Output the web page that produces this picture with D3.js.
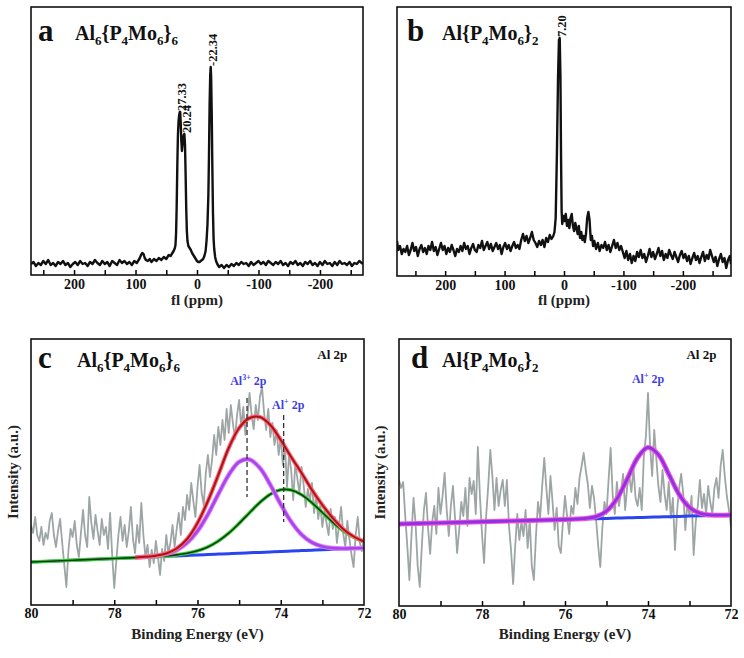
<!DOCTYPE html>
<html><head><meta charset="utf-8">
<script src="https://cdn.jsdelivr.net/npm/d3@7"></script>
<style>body{margin:0;background:#fff}svg{display:block}</style>
</head><body>
<script>
// ---------------- DATA ----------------
// Panel a: 27Al NMR of Al6{P4Mo6}6  (chemical shift ppm, intensity)
const aShift = [270,266,262,258,254,250,246,242,238,234,230,226,222,218,214,210,206,202,198,194,190,186,182,178,174,170,166,162,158,154,150,146,142,138,134,130,126,122,118,114,110,106,102,98,
95,93,91,89,87,85,83,80,77,74,70,66,62,58,54,50,46,43,40,38,36,35,34,33,32,31,30,29,28,27.3,26.5,25.5,24.5,23.5,22.5,21.5,20.5,19.5,18.5,17.5,16.5,15.5,14,12,10,8,6,4,2,0,-2,-4,-6,-8,-10,-12,-14,-15.5,-17,-18.5,-19.5,-20.5,-21.5,-22.3,-23,-24,-25,-26,-27,-28,-29.5,-31,-33,-36,-40,-44,-48,-52,-56,-60,-64,-68,-72,-76,-80,-84,-88,-92,-96,-100,-104,-108,-112,-116,-120,-124,-128,-132,-136,-140,-144,-148,-152,-156,-160,-164,-168,-172,-176,-180,-184,-188,-192,-196,-200,-204,-208,-212,-216,-220,-224,-228,-232,-236,-240,-244,-248,-252,-256,-260,-264,-270];
const aIntensity = [0.5,1.5,-0.5,1,0,2,0.5,2.5,0,1,-0.5,1.5,0.5,2,0,1,-1,0.5,1.5,0,2,0.5,1,-0.5,1.5,0.5,2.5,1,0,2,0.5,1.5,-0.5,2,1,0,2.5,1,2,0.5,1.5,0,2,1,
2.5,3.5,5,6,5.5,3.5,2.5,2,3,1.5,3,2,3.5,2.5,4,3,5,4.5,6,7,8.5,10,16,30,50,65,72,75,76.5,76.5,71,62,57,60,63,65,65.5,60,45,28,17,12,9.5,8.5,7.5,6,5,4,3,2,1.5,1.5,2,2.5,3,4.5,7,12,20,35,55,80,95,99,94,75,48,26,13,8,4,2,0.5,-1,0,-1.5,0,-1,0.5,-0.5,1,0,1.5,0.5,1,-0.5,1.5,0,1,2,0.5,1.5,0,2,1,0,1.5,0.5,2,0,1,-0.5,1.5,0.5,2,0,1,-0.5,1.5,0.5,2,0,1,-0.5,1.5,0,2,0.5,1,-0.5,1.5,0,2,0.5,1,0,1.5,-0.5,1,0.5,2,0.5];
const aPeakLabels = ["27.33","20.24","-22.34"];
const aPeakShift = [27.33, 20.24, -22.34];
const aPeakHeight = [76.5, 65.5, 99];

// Panel b: 27Al NMR of Al{P4Mo6}2
const bShift = [281,279,276,273,270,267,264,261,258,255,252,249,246,243,240,237,234,231,228,225,222,219,216,213,210,207,204,201,198,195,192,189,186,183,180,177,174,171,168,165,162,159,156,153,150,147,144,141,138,135,132,129,126,123,120,117,114,111,108,105,102,99,96,93,90,87,84,81,78,75,72,69,66,63,60,57,54,51,48,45,42,39,36,33,30,27,24,21,18,16,14,12,10,8.5,7.2,6,5,4,3,1,-1,-3,-5,-7,-9,-11,-13,-15,-17,-19,-21,-23,-25,-27,-29,-31,-33,-35,-37,-39,-41,-43,-45,-47,-49,-51,-54,-57,-60,-63,-66,-69,-72,-75,-78,-81,-84,-87,-90,-93,-96,-99,-102,-105,-108,-111,-114,-117,-120,-123,-126,-129,-132,-135,-138,-141,-144,-147,-150,-153,-156,-159,-162,-165,-168,-171,-174,-177,-180,-183,-186,-189,-192,-195,-198,-201,-204,-207,-210,-213,-216,-219,-222,-225,-228,-231,-234,-237,-240,-243,-246,-249,-252,-255,-258,-261,-264,-267,-270,-273,-276,-279,-281];
const bIntensity = [35,26,30,22,27,24,30,21,26,33,25,29,20,27,31,24,28,22,30,26,34,25,29,21,27,33,26,30,22,28,24,31,26,20,27,24,30,25,33,27,30,22,28,32,26,24,31,28,35,26,30,34,27,32,25,29,33,27,31,22,29,33,27,31,25,30,34,28,31,27,36,42,35,40,33,38,44,36,33,29,35,31,36,29,38,34,41,37,40,44,58,120,200,236,238,200,120,65,52,60,55,62,50,56,48,58,62,50,45,53,48,42,50,38,44,36,40,34,42,58,64,56,36,40,30,35,27,33,25,31,28,34,26,31,24,30,36,28,33,26,30,24,18,25,16,22,13,20,15,24,19,26,18,22,14,20,27,19,24,17,22,28,20,25,16,22,18,26,21,17,24,19,14,21,25,18,22,15,20,12,18,23,16,20,13,19,24,15,21,17,26,20,14,19,10,17,22,14,18,8,16,20,12];
const bPeakLabels = ["7.20"];
const bPeakShift = [7.2];
const bPeakHeight = [238];

// Panel c: XPS Al 2p of Al6{P4Mo6}6
const cEnergyStart = 80, cEnergyStep = -0.05;
const cCounts = [80,72,88,70,64,78,60,72,66,84,92,
70,58,74,86,62,40,18,55,76,68,
84,60,48,72,95,70,58,108,82,66,
90,74,60,86,70,78,56,92,50,17,
44,70,88,64,80,58,74,98,66,52,
80,62,102,70,48,60,38,55,42,64,
48,30,56,44,70,52,62,80,58,76,
92,70,98,85,110,95,122,104,88,118,
140,112,100,132,150,128,145,170,150,178,
160,185,165,196,172,200,182,166,190,205,
178,198,170,188,212,190,176,200,185,208,
218,192,175,196,168,182,160,175,150,168,
140,160,118,150,135,105,142,126,112,138,
120,98,116,104,122,92,110,86,100,78,
94,82,70,96,76,88,62,80,98,72,
58,84,66,50,38,70,88,62,54,68];
const cFitEnergy = [80,79,78,77.5,77.25,77,76.75,76.5,76.25,76,75.75,75.5,75.25,75,74.75,74.5,74.25,74,73.75,73.5,73.25,73,72.75,72.5,72.25,72];
const cBackground = [43,44.75,46.5,47.4,47.8,48.25,48.7,49.1,49.6,50,50.4,50.9,51.3,51.75,52.2,52.6,53.1,53.5,53.9,54.4,54.8,55.25,55.7,56.1,56.6,57];
const cAl3Fit = [null,null,null,47.5,48.1,49.1,51.1,54.9,62.1,73.9,90.7,110.9,130.1,143.1,145.6,136.9,120.2,100.7,83.2,70.4,62.5,58.6,56.9,56.5,56.7,57.0];
const cAl1Fit = [43,44.75,46.5,47.4,47.9,48.4,49.1,50.1,51.7,54.2,58.1,63.9,71.8,81.6,92.3,102.6,110.8,115.2,114.9,110.3,102.2,92.5,82.7,74.3,67.9,63.5];
const cEnvelope = [null,null,null,47.5,48.2,49.3,51.5,56.5,66,82,104,130,157,177,187,188,180,165,148,132,115,100,87,76,68.5,63.5];
const cMarkerEnergy = [74.81, 73.93];
const cMarkerTop = [207, 190];
const cMarkerBottom = [108, 83];

// Panel d: XPS Al 2p of Al{P4Mo6}2
const dEnergyStart = 80, dEnergyStep = -0.05;
const dCounts = [126,118,124,90,60,26,70,108,82,40,19,
60,96,113,78,52,84,100,72,118,92,
110,133,96,70,100,120,88,53,76,104,
90,118,80,128,112,125,92,159,110,72,
43,90,120,156,130,96,128,100,116,126,
100,126,80,56,22,60,92,66,84,70,
96,58,86,40,26,70,104,88,120,148,
118,92,130,104,76,98,60,53,84,110,
90,72,100,92,118,102,128,140,153,136,
122,98,120,108,86,60,39,78,104,92,
126,158,110,92,124,100,114,132,96,120,
130,114,138,108,100,118,96,150,170,213,
160,130,176,148,120,104,136,112,96,124,
88,108,56,94,118,132,112,76,104,90,
110,51,84,100,126,98,112,92,120,104,
92,118,128,108,140,156,130,110,96,79];
const dFitEnergy = [80,78,76,75.75,75.5,75.25,75,74.75,74.5,74.25,74,73.75,73.5,73.25,73,72.75,72.5,72.25,72];
const dBackground = [82,84.25,86.5,86.8,87.1,87.3,87.6,87.9,88.2,88.5,88.75,89.0,89.3,89.6,89.9,90.2,90.4,90.7,91];
const dAl1Fit = [82,84.25,86.5,86.9,87.6,89.4,94.9,107.2,127.1,148.3,158.6,151.4,131.8,111.6,98.6,92.8,91.0,90.8,91];

// axis ticks
const nmrTicks = [250,200,150,100,50,0,-50,-100,-150,-200,-250];
const nmrTickLabels = [200,100,0,-100,-200];
const xpsTicks = [79,78,77,76,75,74,73];
const xpsTickLabels = [80,78,76,74,72];

// ---------------- DRAW ----------------
const FONT = '"Liberation Serif","Times New Roman",serif';
const svg = d3.select("body").append("svg").attr("width",744).attr("height",658);
let clipN = 0;

function makePanel(box, xDomain, yDomain, ticks, tickLabels, xLabel, yLabel, pad){
  const x = d3.scaleLinear().domain(xDomain).range([box.l, box.r]);
  const y = d3.scaleLinear().domain(yDomain).range([box.b, box.t]);
  const id = "clip" + (++clipN);
  svg.append("clipPath").attr("id", id).append("rect")
    .attr("x", box.l).attr("y", box.t).attr("width", box.r - box.l).attr("height", box.b - box.t);
  const plot = svg.append("g").attr("clip-path", `url(#${id})`);
  const tg = svg.append("g").attr("transform", `translate(0,${box.b})`)
    .call(d3.axisBottom(x).tickValues(ticks).tickSizeInner(-5).tickSizeOuter(0).tickFormat(""));
  tg.select(".domain").remove();
  tg.selectAll("line").attr("stroke", "#000").attr("stroke-width", 1.5);
  const lg = svg.append("g").attr("transform", `translate(0,${box.b})`)
    .call(d3.axisBottom(x).tickValues(tickLabels).tickSize(0).tickPadding(pad).tickFormat(d => String(d)));
  lg.select(".domain").remove();
  lg.selectAll("text").attr("font-family", FONT).attr("font-weight", "bold").attr("font-size", 14).attr("fill", "#111");
  svg.append("rect").attr("x", box.l).attr("y", box.t).attr("width", box.r - box.l).attr("height", box.b - box.t)
    .attr("fill", "none").attr("stroke", "#111").attr("stroke-width", 1.6);
  svg.append("text").attr("x", (box.l + box.r) / 2).attr("y", box.b + xLabel.dy)
    .attr("text-anchor", "middle").attr("font-family", FONT).attr("font-weight", "bold")
    .attr("font-size", 15).attr("fill", "#222").text(xLabel.text);
  if (yLabel) {
    svg.append("text").attr("transform", `translate(${box.l - yLabel.dx},${(box.t + box.b) / 2}) rotate(-90)`)
      .attr("text-anchor", "middle").attr("font-family", FONT).attr("font-weight", "bold")
      .attr("font-size", 15).attr("fill", "#222").text(yLabel.text);
  }
  return {x, y, plot};
}

function title(xLetter, xFormula, yBase, letter, parts){
  svg.append("text").attr("x", xLetter).attr("y", yBase + 1).attr("font-family", FONT)
    .attr("font-weight", "bold").attr("font-size", 31).attr("fill", "#111").text(letter);
  const t = svg.append("text").attr("x", xFormula).attr("y", yBase).attr("font-family", FONT)
    .attr("font-weight", "bold").attr("font-size", 20).attr("fill", "#111");
  let shifted = false;
  parts.forEach(p => {
    if (p.sub) {
      t.append("tspan").attr("font-size", 13).attr("dy", shifted ? 0 : 5).text(p.t);
      shifted = true;
    } else {
      t.append("tspan").attr("dy", shifted ? -5 : 0).text(p.t);
      shifted = false;
    }
  });
}
function formulaParts(s){
  const out = []; let i = 0;
  while (i < s.length) {
    if (s[i] === "_") { out.push({t: s[i+1], sub: true}); i += 2; }
    else { let j = i; while (j < s.length && s[j] !== "_") j++; out.push({t: s.slice(i, j)}); i = j; }
  }
  return out;
}

function drawNmrLabels(P, labels, shifts, heights){
  labels.forEach((lab, i) => {
    const px = P.x(shifts[i]) + 2, py = P.y(heights[i]) - 1;
    svg.append("text").attr("transform", `translate(${px},${py}) rotate(-90)`)
      .attr("dominant-baseline","central").attr("font-family", FONT).attr("font-weight","bold")
      .attr("font-size", 12.5).attr("fill","#111").text(lab);
  });
}

// ---- Panel a ----
{
  const P = makePanel({l:31, r:363, t:7, b:275}, [270,-270], [-5,129], nmrTicks, nmrTickLabels,
    {text:"fl (ppm)", dy:30}, null, 4);
  const data = aShift.map((s, i) => [s, aIntensity[i]]);
  P.plot.append("path").datum(data).attr("fill","none").attr("stroke","#111").attr("stroke-width",2.4)
    .attr("stroke-linejoin","round")
    .attr("d", d3.line().x(d => P.x(d[0])).y(d => P.y(d[1])));
  drawNmrLabels(P, aPeakLabels, aPeakShift, aPeakHeight);
  title(38, 75, 40, "a", formulaParts("Al_6{P_4Mo_6}_6"));
}
// ---- Panel b ----
{
  const P = makePanel({l:397, r:731, t:7, b:276}, [281,-281], [0,269], nmrTicks, nmrTickLabels,
    {text:"fl (ppm)", dy:29}, null, 4);
  const data = bShift.map((s, i) => [s, bIntensity[i]]);
  P.plot.append("path").datum(data).attr("fill","none").attr("stroke","#111").attr("stroke-width",2.4)
    .attr("stroke-linejoin","round")
    .attr("d", d3.line().x(d => P.x(d[0])).y(d => P.y(d[1])));
  drawNmrLabels(P, bPeakLabels, bPeakShift, bPeakHeight);
  title(407, 442, 40, "b", formulaParts("Al{P_4Mo_6}_2"));
}

function xpsLine(P, xs, ys){
  return d3.line().defined((d, i) => ys[i] !== null)
    .x((d, i) => P.x(xs[i])).y((d, i) => P.y(ys[i] === null ? 0 : ys[i]))
    .curve(d3.curveCatmullRom.alpha(0.5))(xs);
}
function drawCurve(P, xs, ys, outer, inner, wo, wi){
  P.plot.append("path").attr("d", xpsLine(P, xs, ys)).attr("fill","none").attr("stroke", outer).attr("stroke-width", wo);
  if (inner) P.plot.append("path").attr("d", xpsLine(P, xs, ys)).attr("fill","none").attr("stroke", inner).attr("stroke-width", wi);
}
function supLabel(xp, yp, sup, color){
  const t = svg.append("text").attr("x", xp).attr("y", yp).attr("text-anchor","middle")
    .attr("font-family", FONT).attr("font-weight","bold").attr("font-size", 12).attr("fill", color);
  t.append("tspan").text("Al");
  t.append("tspan").attr("font-size", 8).attr("dy", -5).text(sup);
  t.append("tspan").attr("dy", 5).text(" 2p");
}

// ---- Panel c ----
{
  const P = makePanel({l:31, r:364, t:339, b:605}, [80,72], [0,266], xpsTicks, xpsTickLabels,
    {text:"Binding Energy (eV)", dy:34}, {text:"Intensity (a.u.)", dx:13}, 3);
  const energies = cCounts.map((c, i) => cEnergyStart + i * cEnergyStep);
  P.plot.append("path").datum(cCounts).attr("fill","none").attr("stroke","#9ea5a5").attr("stroke-width",1.8)
    .attr("stroke-linejoin","round")
    .attr("d", d3.line().x((d, i) => P.x(energies[i])).y(d => P.y(d)));
  drawCurve(P, cFitEnergy, cBackground, "#2a45f0", null, 3);
  drawCurve(P, cFitEnergy, cAl1Fit, "#3ad63a", "#163816", 3.6, 1.6);
  drawCurve(P, cFitEnergy, cAl3Fit, "#e27cff", "#a646ea", 4.6, 2.6);
  drawCurve(P, cFitEnergy, cEnvelope, "#ff6a78", "#a8141c", 4.2, 2.0);
  cMarkerEnergy.forEach((e, i) => {
    svg.append("line").attr("x1", P.x(e)).attr("x2", P.x(e)).attr("y1", P.y(cMarkerTop[i])).attr("y2", P.y(cMarkerBottom[i]))
      .attr("stroke","#333").attr("stroke-width",1.3).attr("stroke-dasharray","5,3");
  });
  supLabel(P.x(74.78), P.y(220), "3+", "#3f3fe6");
  supLabel(P.x(73.82), P.y(196), "+", "#3f3fe6");
  svg.append("text").attr("x", P.x(72.4)).attr("y", P.y(246)).attr("text-anchor","end")
    .attr("font-family", FONT).attr("font-weight","bold").attr("font-size", 13).attr("fill","#111").text("Al 2p");
  title(38, 77, 367, "c", formulaParts("Al_6{P_4Mo_6}_6"));
}
// ---- Panel d ----
{
  const P = makePanel({l:399, r:731, t:339, b:606}, [80,72], [0,267], xpsTicks, xpsTickLabels,
    {text:"Binding Energy (eV)", dy:33}, {text:"Intensity (a.u.)", dx:14}, 3);
  const energies = dCounts.map((c, i) => dEnergyStart + i * dEnergyStep);
  P.plot.append("path").datum(dCounts).attr("fill","none").attr("stroke","#9ea5a5").attr("stroke-width",1.8)
    .attr("stroke-linejoin","round")
    .attr("d", d3.line().x((d, i) => P.x(energies[i])).y(d => P.y(d)));
  drawCurve(P, dFitEnergy, dBackground, "#2a45f0", null, 3);
  drawCurve(P, dFitEnergy, dAl1Fit, "#ff4fd8", "#8a34e6", 5, 2.8);
  supLabel(P.x(74.0), P.y(223), "+", "#3f3fe6");
  svg.append("text").attr("x", P.x(72.35)).attr("y", P.y(247)).attr("text-anchor","end")
    .attr("font-family", FONT).attr("font-weight","bold").attr("font-size", 13).attr("fill","#111").text("Al 2p");
  title(411, 442, 367, "d", formulaParts("Al{P_4Mo_6}_2"));
}
</script>
</body></html>
